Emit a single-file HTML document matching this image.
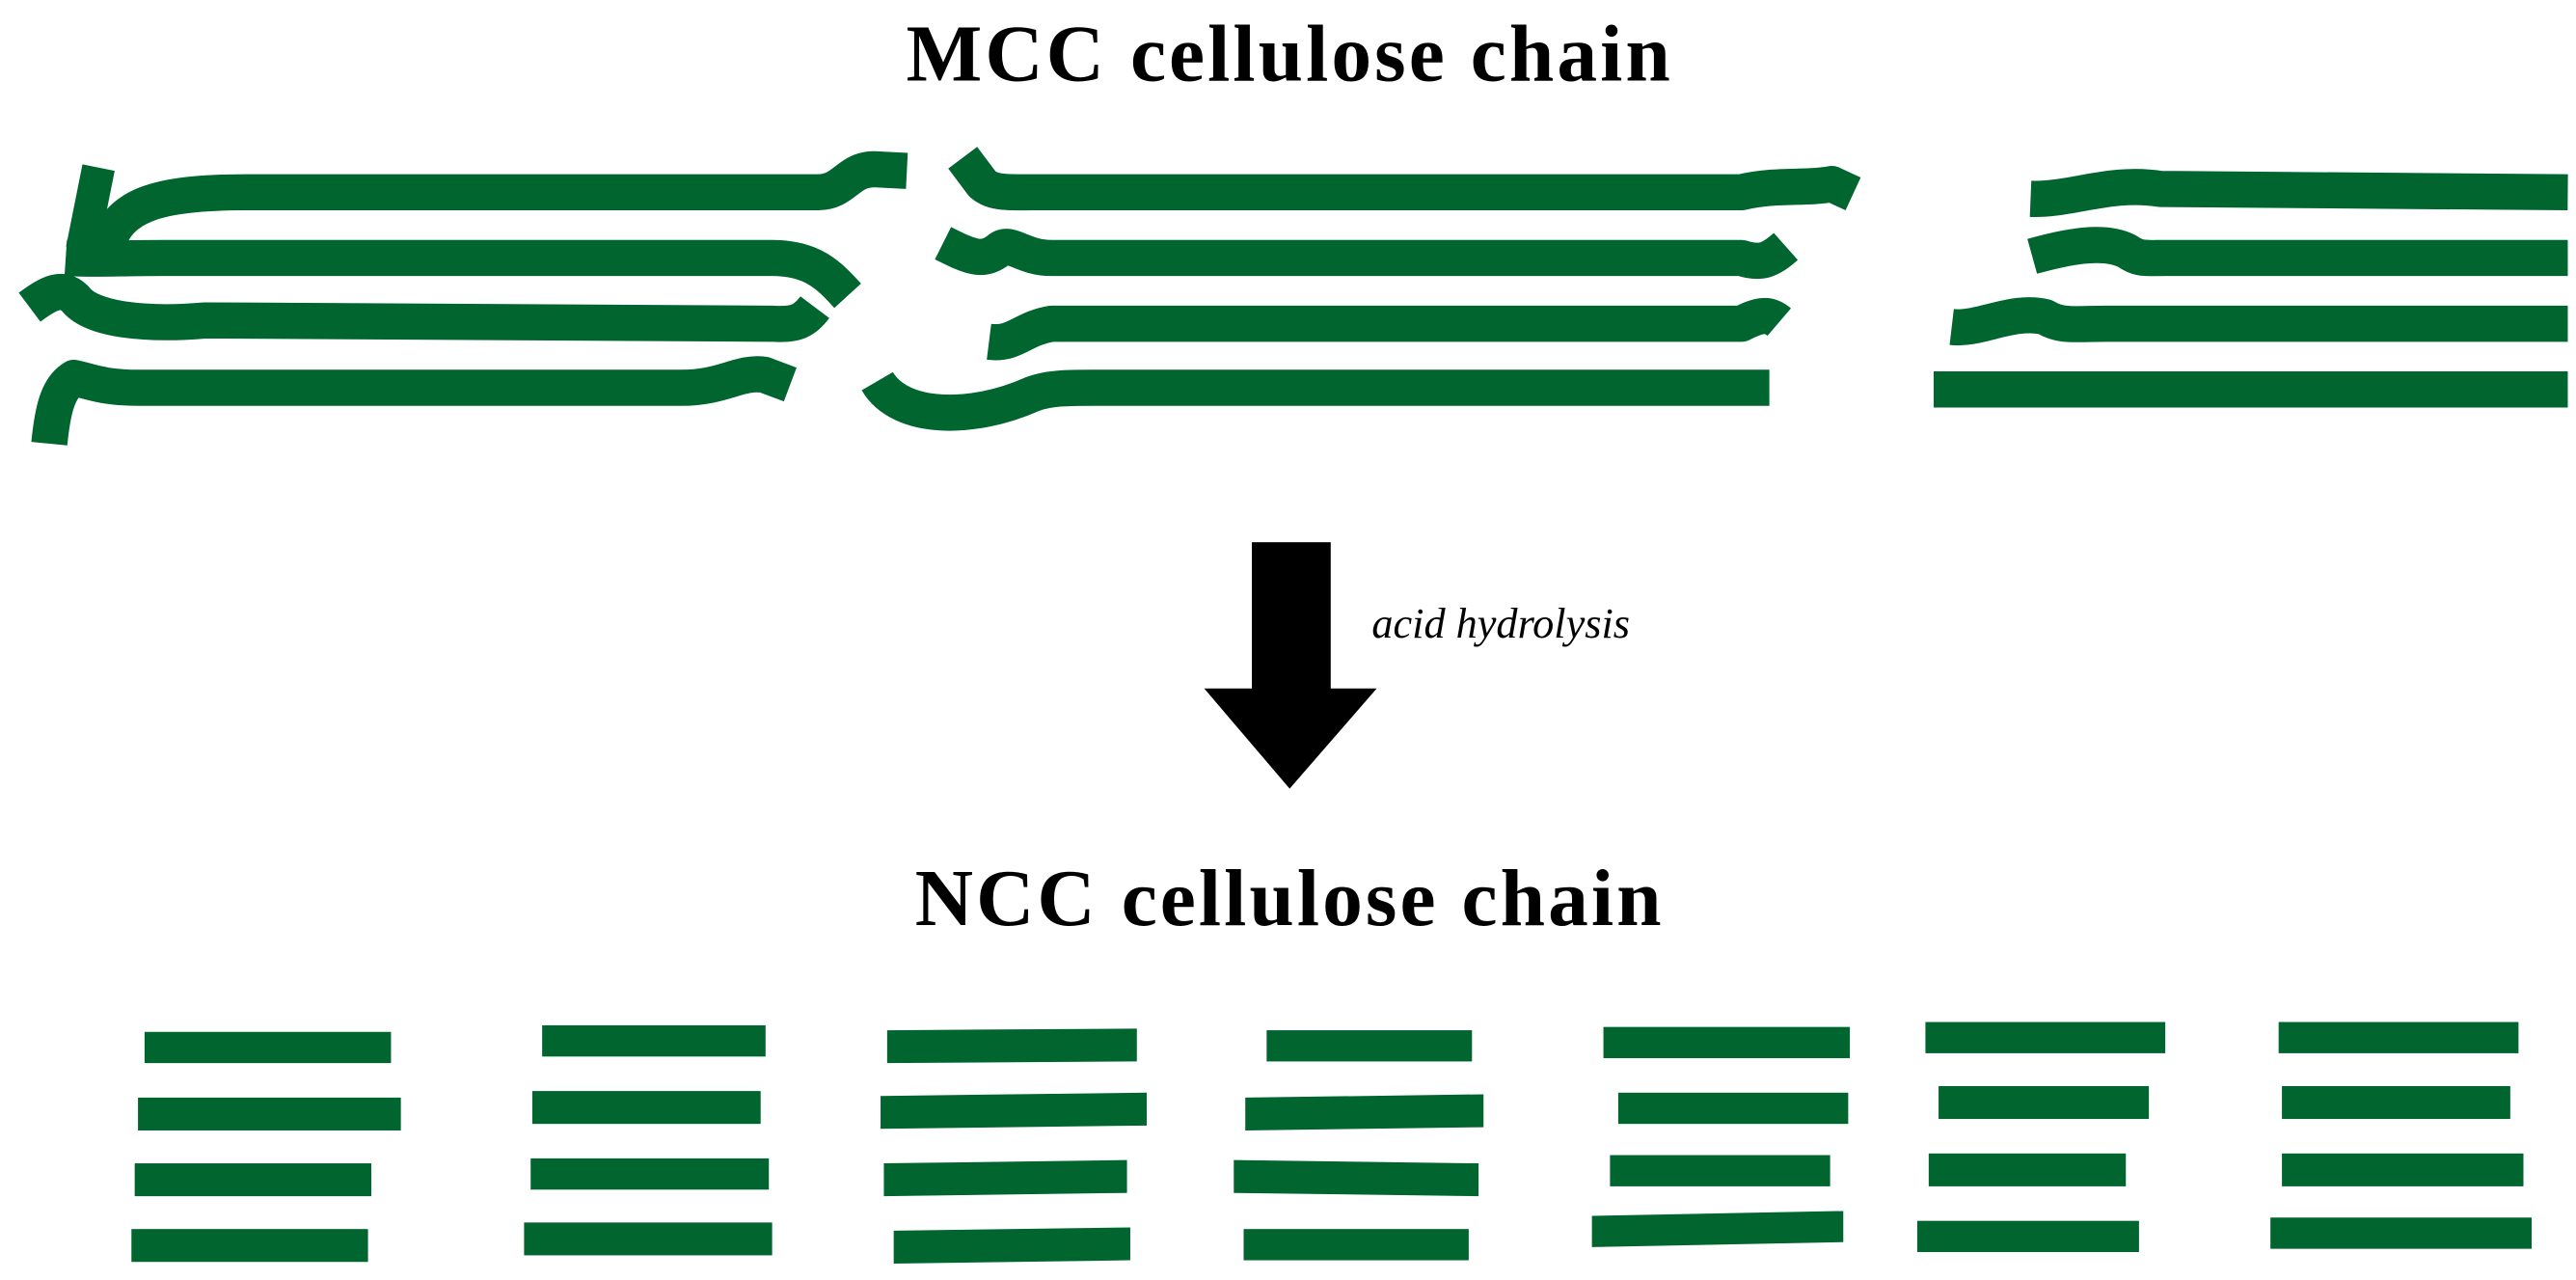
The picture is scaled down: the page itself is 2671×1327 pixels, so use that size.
<!DOCTYPE html>
<html><head><meta charset="utf-8"><style>
html,body{margin:0;padding:0;background:#fff;}
svg{display:block;}
</style></head><body>
<svg width="2671" height="1327" viewBox="0 0 1568 779" xmlns="http://www.w3.org/2000/svg">
<rect width="1568" height="779" fill="#fff"/>
<text x="785" y="49" text-anchor="middle" font-family="Liberation Serif, serif" font-weight="bold" font-size="49" letter-spacing="1.8" fill="#000">MCC cellulose chain</text>
<text x="785" y="563" text-anchor="middle" font-family="Liberation Serif, serif" font-weight="bold" font-size="49" letter-spacing="1.8" fill="#000">NCC cellulose chain</text>
<g fill="none" stroke="#00652e" stroke-width="22" stroke-linecap="butt" stroke-linejoin="round">
<path d="M552,104 L532,103 C516,103 514,117 498,117 L150,117 C95,117 72,125 65,150"/>
<path d="M60,102 L50,152" stroke-width="20"/>
<path d="M40,157 C55,158 70,157 100,157 L470,157 C495,157 505,168 516,180"/>
<path d="M18,187 C30,178 38,174 46,182 C56,195 90,198 125,195 L470,197 C485,198 490,195 496,187"/>
<path d="M30,270 C32,250 35,236 45,230 C55,232 62,236 85,236 L415,236 C440,236 450,226 465,228 L481,234"/>
<path d="M586,96 L598,112 C605,118 615,117 630,117 L1060,117 C1080,112 1100,115 1115,112 L1128,118"/>
<path d="M574,148 C590,156 598,160 608,152 C615,146 622,157 640,157 L1060,157 C1072,161 1078,158 1087,150"/>
<path d="M602,208 C618,210 622,200 640,197 L1060,197 C1070,192 1076,190 1083,196"/>
<path d="M534,232 C548,256 592,256 628,240 C638,236 650,236 665,236 L1077,236"/>
<path d="M1236,121 C1260,122 1285,110 1315,115 L1563,117"/>
<path d="M1237,156 C1255,151 1280,145 1295,153 C1302,158 1306,157 1318,157 L1563,157"/>
<path d="M1188,199 C1205,201 1225,188 1245,193 C1255,199 1263,197 1282,197 L1563,197"/>
<path d="M1177,237 L1563,237"/>
</g>
<rect x="762" y="330" width="48" height="90" fill="#000"/>
<polygon points="733,419 838,419 785,480" fill="#000"/>
<text x="835" y="388" font-family="Liberation Serif, serif" font-style="italic" font-size="26" fill="#000">acid hydrolysis</text>
<g fill="#00652e">
<rect x="88" y="628" width="150" height="19"/>
<rect x="84" y="668" width="160" height="20"/>
<rect x="82" y="708" width="144" height="20"/>
<rect x="80" y="748" width="144" height="20"/>
<rect x="330" y="624" width="136" height="19"/>
<rect x="324" y="664" width="139" height="20"/>
<rect x="323" y="705" width="145" height="19"/>
<rect x="319" y="744" width="151" height="20"/>
<polygon points="540,627 692,626 692,646 540,647"/>
<polygon points="536,667 698,665 698,685 536,687"/>
<polygon points="538,708 686,706 686,726 538,728"/>
<polygon points="544,749 688,747 688,767 544,769"/>
<rect x="771" y="627" width="125" height="19"/>
<polygon points="758,668 903,666 903,686 758,688"/>
<polygon points="751,706 900,708 900,728 751,726"/>
<rect x="757" y="748" width="137" height="19"/>
<rect x="976" y="625" width="150" height="19"/>
<rect x="985" y="665" width="140" height="19"/>
<rect x="980" y="703" width="134" height="19"/>
<polygon points="969,740 1122,737 1122,756 969,759"/>
<rect x="1172" y="622" width="146" height="19"/>
<rect x="1180" y="661" width="128" height="20"/>
<rect x="1174" y="702" width="120" height="20"/>
<rect x="1167" y="743" width="135" height="19"/>
<rect x="1387" y="622" width="146" height="19"/>
<rect x="1389" y="661" width="139" height="20"/>
<rect x="1389" y="702" width="147" height="20"/>
<rect x="1382" y="741" width="159" height="19"/>
</g>
</svg>
</body></html>
